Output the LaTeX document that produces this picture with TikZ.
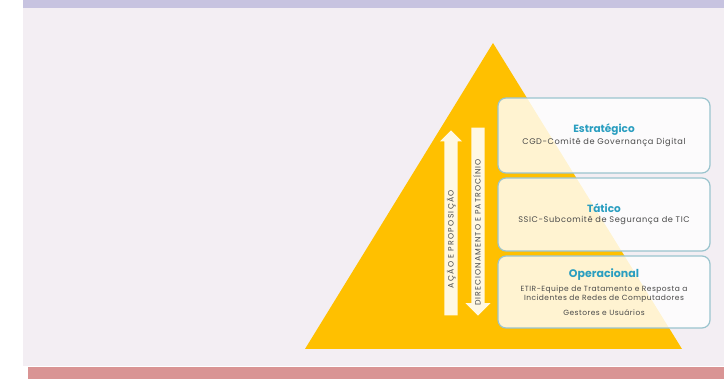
\documentclass[tikz,border=0pt]{standalone}
\usepackage{fontspec}
\setmainfont{Poppins}
\usetikzlibrary{shapes.arrows}
\definecolor{bandtop}{HTML}{C7C3E0}
\definecolor{bandbottom}{HTML}{D99494}
\definecolor{paper}{HTML}{F3EEF3}
\definecolor{pyramid}{HTML}{FFC000}
\definecolor{arrowfill}{HTML}{FFF8E3}
\definecolor{boxline}{HTML}{9AC4CE}
\definecolor{titleteal}{HTML}{2A9EC0}
\definecolor{textgray}{HTML}{4A4A4A}
\newcommand{\leveltitle}[2][10.5]{\textcolor{titleteal}{\addfontfeature{LetterSpace=0}\bfseries\fontsize{#1}{12}\selectfont #2}}
\begin{document}
\begin{tikzpicture}[x=1pt,y=-1pt,
level box/.style={draw=boxline, line width=1.2pt, rounded corners=8pt,
  fill=white, fill opacity=0.82, text opacity=1, minimum width=212pt,
  align=center, text=textgray,
  font=\fontsize{8.2}{9}\selectfont\addfontfeature{LetterSpace=7}},
flow arrow/.style={single arrow, fill=arrowfill, draw=none, inner xsep=2pt,
  inner ysep=4pt, text height=5pt, text depth=0pt, text=textgray,
  single arrow tip angle=90, font=\fontsize{7.8}{8}\selectfont}
]
\useasboundingbox (0,0) rectangle (724,379);
% background bands
\fill[paper] (23,8) rectangle (724,366);
\fill[bandtop] (23,0) rectangle (724,8);
\fill[bandbottom] (28,367) rectangle (724,379);

% pyramid
\fill[pyramid] (493,43) -- (682,349) -- (305,349) -- cycle;

% arrows
\node[flow arrow, rotate=90, anchor=tip, minimum height=185pt,
  single arrow head extend=4.5pt] (acao) at (451,130)
  {\addfontfeature{LetterSpace=16}AÇÃO E PROPOSIÇÃO\hspace*{26pt}};
\node[flow arrow, rotate=90, shape border rotate=180, anchor=tip,
  minimum height=188pt, single arrow head extend=6pt] (direc) at (478,316)
  {\addfontfeature{LetterSpace=13}DIRECIONAMENTO E PATROCÍNIO\hspace*{28pt}};

% levels
\node[level box, minimum height=75pt] (estrat) at (604,135.5)
  {\leveltitle{Estratégico}\\[2pt]
   CGD-Comitê de Governança Digital};
\node[level box, minimum height=73pt] (tatico) at (604,214.5)
  {\leveltitle{Tático}\\[1pt]
   SSIC-Subcomitê de Segurança de TIC};
\node[level box, minimum height=72pt, font=\fontsize{7.5}{9}\selectfont\addfontfeature{LetterSpace=6}]
  (oper) at (604,292)
  {\leveltitle[11]{Operacional}\\[5pt]
   ETIR-Equipe de Tratamento e Resposta a\\
   Incidentes de Redes de Computadores\\[6pt]
   Gestores e Usuários};
\end{tikzpicture}
\end{document}
